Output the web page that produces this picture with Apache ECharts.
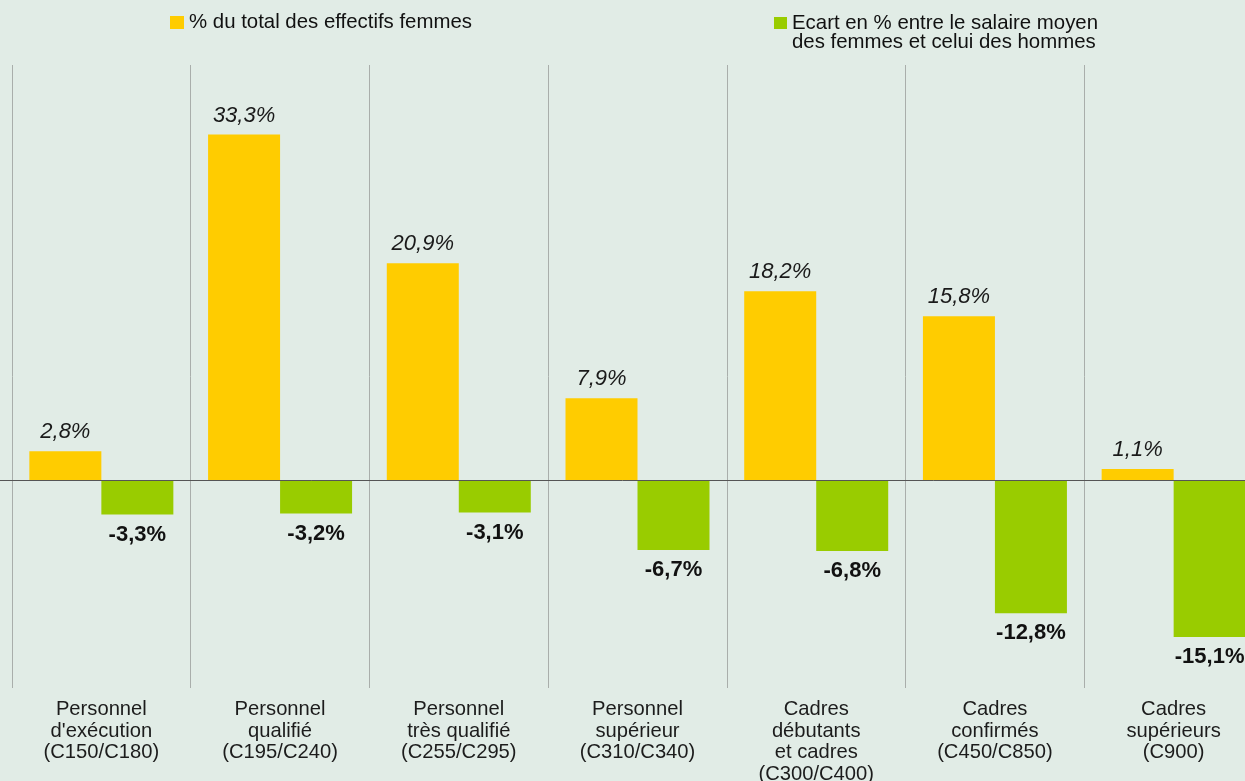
<!DOCTYPE html>
<html>
<head>
<meta charset="utf-8">
<script src="https://cdn.jsdelivr.net/npm/echarts@6/dist/echarts.min.js"></script>
<style>
  html, body { margin: 0; padding: 0; background: #e1ece6; }
  #chart { width: 1245px; height: 781px; }
</style>
</head>
<body>
<div id="chart"></div>
<script>
// Salary categories (grade ranges in parentheses)
const categories = [
  'Personnel\nd\'exécution\n(C150/C180)',
  'Personnel\nqualifié\n(C195/C240)',
  'Personnel\ntrès qualifié\n(C255/C295)',
  'Personnel\nsupérieur\n(C310/C340)',
  'Cadres\ndébutants\net cadres\n(C300/C400)',
  'Cadres\nconfirmés\n(C450/C850)',
  'Cadres\nsupérieurs\n(C900)'
];

// Share of the female workforce in each category (%)
const womenShare = [2.8, 33.3, 20.9, 7.9, 18.2, 15.8, 1.1];

// Gap between women's and men's average salary (%)
const payGap = [-3.3, -3.2, -3.1, -6.7, -6.8, -12.8, -15.1];

const seriesNames = [
  '% du total des effectifs femmes',
  'Ecart en % entre le salaire moyen\ndes femmes et celui des hommes'
];

const FONT = '"Liberation Sans", Arial, Helvetica, sans-serif';
const YELLOW = '#ffcc00';
const GREEN = '#99cc00';

const fmtPct = (v) => v.toFixed(1).replace('.', ',') + '%';

const chart = echarts.init(document.getElementById('chart'), null, { renderer: 'canvas' });

chart.setOption({
  backgroundColor: '#e1ece6',
  animation: false,
  textStyle: { fontFamily: FONT },
  legend: [
    {
      data: [seriesNames[0]],
      left: 170,
      top: 12.5,
      padding: 0,
      icon: 'rect',
      itemWidth: 14,
      itemHeight: 13,
      selectedMode: false,
      textStyle: { fontSize: 20.4, color: '#111', fontFamily: FONT }
    },
    {
      data: [seriesNames[1]],
      left: 774,
      top: -6.5,
      padding: 0,
      icon: 'rect',
      itemWidth: 13,
      itemHeight: 12,
      selectedMode: false,
      // leading blank line keeps the first text line level with the swatch
      formatter: (name) => '\n' + name,
      textStyle: {
        fontSize: 20.4,
        lineHeight: 19.5,
        color: '#111',
        fontFamily: FONT
      }
    }
  ],
  grid: { left: 12, top: 65, width: 1251, height: 623, containLabel: false, outerBoundsMode: 'none' },
  xAxis: {
    type: 'category',
    data: categories,
    axisLine: { show: false },
    axisTick: { show: false },
    splitLine: { show: true, lineStyle: { color: '#a9aeab', width: 1 } },
    axisLabel: {
      interval: 0,
      margin: 11,
      fontSize: 20.2,
      lineHeight: 21.5,
      color: '#1c1c1c',
      fontFamily: FONT
    }
  },
  yAxis: {
    type: 'value',
    min: -20,
    max: 40,
    show: false,
    splitLine: { show: false }
  },
  series: [
    {
      name: seriesNames[0],
      type: 'bar',
      data: womenShare,
      barWidth: 72,
      barGap: '0%',
      itemStyle: { color: YELLOW },
      label: {
        show: true,
        position: 'top',
        distance: 8,
        formatter: (p) => fmtPct(p.value),
        fontSize: 22,
        fontStyle: 'italic',
        color: '#1a1a1a',
        fontFamily: FONT
      }
    },
    {
      name: seriesNames[1],
      type: 'bar',
      data: payGap,
      barWidth: 72,
      barGap: '0%',
      itemStyle: { color: GREEN },
      label: {
        show: true,
        position: 'bottom',
        distance: 9,
        formatter: (p) => fmtPct(p.value),
        fontSize: 22,
        fontWeight: 'bold',
        color: '#111',
        fontFamily: FONT
      }
    }
  ]
});

// Baseline at zero spanning the full width
const y0 = Math.round(chart.convertToPixel({ yAxisIndex: 0 }, 0)) + 0.5;
chart.setOption({
  graphic: [{
    type: 'line',
    z: 100,
    shape: { x1: 0, y1: y0, x2: 1245, y2: y0 },
    style: { stroke: '#555', lineWidth: 1 }
  }]
});
</script>
</body>
</html>
